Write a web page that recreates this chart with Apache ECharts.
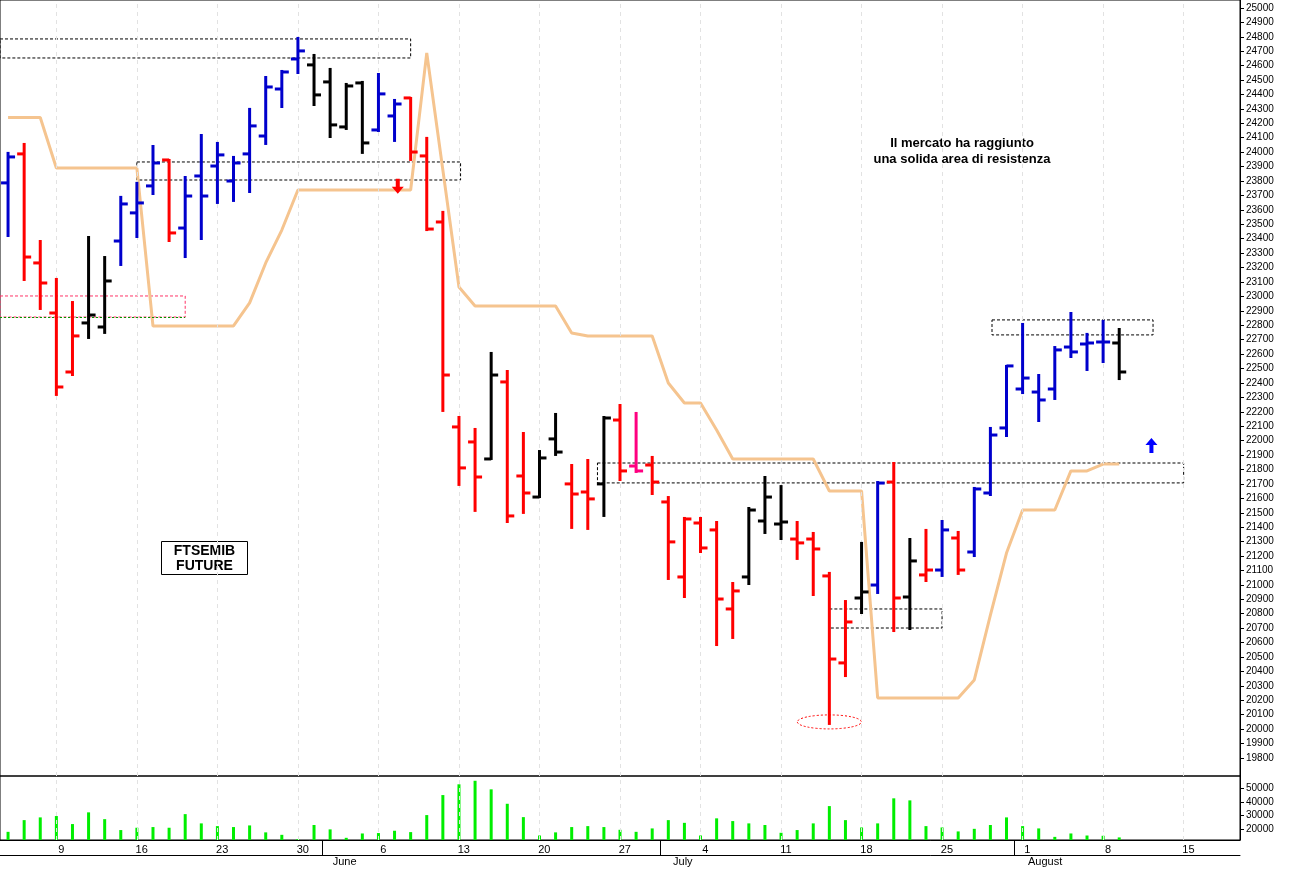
<!DOCTYPE html>
<html><head><meta charset="utf-8">
<script src="https://cdn.jsdelivr.net/npm/echarts@6/dist/echarts.min.js"></script>
<style>html,body{margin:0;padding:0;background:#fff}#c{width:1289px;height:870px}</style>
</head><body><div id="c"></div>
<script>
// trading days May 4 .. Aug 9 (index 0..69)
const opens  = [23787,23988,23232,22885,22476,22816,22788,23384,23579,23766,23946,23474,23835,23904,23800,23988,24112,24438,24646,24605,24487,24175,24480,24154,24251,24376,23974,23516,22095,21991,21873,22407,21755,21609,22012,21700,21644,21700,22143,21824,21831,21575,21055,21429,21381,20833,21055,21443,21422,21318,21318,21062,20459,20909,20999,21713,20916,21069,21103,21325,21228,21637,22088,22358,22337,22358,22649,22670,22684,22677];
const highs  = [23995,24057,23384,23121,22961,23412,23273,23690,23787,24043,23946,23828,24119,24064,23967,24300,24521,24563,24792,24674,24577,24473,24487,24542,24362,24376,24099,23586,22164,22081,22608,22483,22053,21928,22185,21831,21866,22164,22247,22192,21887,21609,21464,21464,21436,21013,21533,21748,21685,21436,21360,21083,20888,21291,21713,21845,21318,21381,21443,21367,21672,22088,22518,22809,22455,22649,22885,22740,22830,22774];
const lows   = [23419,23114,22913,22317,22455,22712,22747,23218,23412,23710,23384,23273,23398,23648,23662,23724,24057,24313,24549,24327,24105,24161,23995,24147,24078,23946,23460,22206,21693,21513,21873,21436,21499,21609,21901,21395,21388,21478,21727,21783,21630,21041,20916,21228,20583,20632,21006,21360,21318,21180,20930,20036,20368,20805,20944,20680,20694,21027,21062,21076,21200,21623,22032,22330,22136,22289,22580,22490,22545,22427];
const closes = [23967,23273,23093,22372,22726,22871,23107,23641,23648,23925,23440,23696,23696,23981,23925,24182,24452,24556,24702,24397,24189,24459,24064,24404,24334,24001,23467,22455,21811,21748,22455,21478,21637,21880,21921,21630,21596,22157,21790,21790,21713,21298,21457,21256,20902,20958,21519,21609,21436,21291,21249,20486,20743,20951,21706,20909,21166,21103,21381,21103,21665,22039,22518,22434,22282,22629,22615,22677,22684,22476];
const barColorCodes = "brrrrkkbbbrbbbbbbbbkkkkbbrrrrrkrrkkrrkrprrrrrrkkkrrrrkbrkrbrbbbbbbbbbk";
const stopLine = [24240,24240,24240,23890,23890,23890,23890,23890,23890,22795,22795,22795,22795,22795,22795,22955,23232,23460,23738,23738,23738,23738,23738,23738,23738,23738,24688,23876,23065,22934,22934,22934,22934,22934,22934,22747,22726,22726,22726,22726,22726,22400,22261,22261,22074,21873,21873,21873,21873,21873,21873,21651,21651,21651,20216,20216,20216,20216,20216,20216,20341,20791,21221,21519,21519,21519,21790,21790,21838,21838];
const volumes = [18000,26600,28600,29600,23700,32300,27300,19300,21000,21500,21000,31000,24200,22200,21500,22700,17600,15800,12700,23000,19800,13600,16800,17100,18800,17800,30300,45000,52900,55500,49200,38600,28800,15300,17600,21500,22200,21500,19500,18000,20500,26600,24600,15300,27900,25900,24200,23000,17300,19300,24200,36900,26600,21200,24200,42600,41100,22200,21200,18300,20200,23000,28600,22200,20500,14300,16800,15300,15100,13900];
const weekTickIdx = [3,8,13,18,23,28,33,38,43,48,53,58,63,68,73];
const weekTickLabels = ["9","16","23","30","6","13","20","27","4","11","18","25","1","8","15"];
const monthTickIdx = [20,41,63];
const monthLabels = ["June","July","August"];
const priceLabels = [];
for (let p = 19800; p <= 25000; p += 100) priceLabels.push(p);
const volumeLabels = [20000,30000,40000,50000];
// annotation zones [x0,x1,priceTop,priceBottom]
const blackZones = [[-0.5,25,24785,24653],[8,28.1,23932,23807],[61.1,71.1,22837,22733],[36.6,73,21845,21707],[51,58,20833,20701]];
const pinkZone = [-0.5,11,23003,22857];

const colorMap = {b:'#0000cc', r:'#ff0000', k:'#000000', p:'#ff0080'};
const ohlc = opens.map((o,i)=>[i,o,highs[i],lows[i],closes[i],barColorCodes[i]]);
const monthPos = monthTickIdx.map(v=>v-0.5);
const weekLabelPos = weekTickIdx.map(v=>v+0.3);
const monthLabelPos = monthPos.map((v,i)=>v+[1.4,1.4,1.9][i]);

const chart = echarts.init(document.getElementById('c'));
const ohlcRender = (params, api) => {
  const i = api.value(0);
  const pO = api.coord([i, api.value(1)]), pH = api.coord([i, api.value(2)]);
  const pL = api.coord([i, api.value(3)]), pC = api.coord([i, api.value(4)]);
  const col = colorMap[ohlc[params.dataIndex][5]];
  const st = {stroke: col, lineWidth: 3};
  return {type:'group', children:[
    {type:'line', shape:{x1:pH[0],y1:pH[1]-1,x2:pL[0],y2:pL[1]+1}, style:st},
    {type:'line', shape:{x1:pO[0]-7,y1:pO[1],x2:pO[0],y2:pO[1]}, style:st},
    {type:'line', shape:{x1:pC[0],y1:pC[1],x2:pC[0]+7,y2:pC[1]}, style:st}
  ]};
};
const zoneArea = z => [{xAxis:z[0], yAxis:z[2]},{xAxis:z[1], yAxis:z[3]}];
const weekLines = {silent:true,symbol:'none',label:{show:false},lineStyle:{color:'#e2e2e2',type:[4,4],width:1},
  data:weekTickIdx.map(v=>({xAxis:v}))};
const plain = v => String(v);

const option = {
  animation:false,
  backgroundColor:'#fff',
  grid:[
    {left:0,right:49,top:0,bottom:94,show:true,borderColor:'#000',borderWidth:1},
    {left:0,right:49,top:776,height:64,show:true,borderColor:'#000',borderWidth:1}
  ],
  xAxis:[
    {type:'value',gridIndex:0,min:-0.5,max:76.5,axisLine:{show:false},axisTick:{show:false},axisLabel:{show:false},splitLine:{show:false}},
    {type:'value',gridIndex:1,min:-0.5,max:76.5,axisLine:{show:true,onZero:false,lineStyle:{color:'#000'}},
     axisTick:{show:false},
     axisLabel:{customValues:weekLabelPos,formatter:v=>weekTickLabels[weekLabelPos.indexOf(v)]||'',margin:4,fontFamily:'Arial',fontSize:11,color:'#000'},
     splitLine:{show:false}},
    {type:'value',gridIndex:1,min:-0.5,max:76.5,position:'bottom',offset:15,axisLine:{show:true,onZero:false,lineStyle:{color:'#000'}},
     axisTick:{show:true,customValues:monthPos,length:-15,lineStyle:{color:'#000'}},
     axisLabel:{customValues:monthLabelPos,formatter:v=>monthLabels[monthLabelPos.indexOf(v)]||'',margin:1,fontFamily:'Arial',fontSize:11,color:'#000'},
     splitLine:{show:false}}
  ],
  yAxis:[
    {type:'value',gridIndex:0,position:'right',min:19675,max:25055,
     axisLine:{show:true,onZero:false,lineStyle:{color:'#000'}},
     axisTick:{show:true,customValues:priceLabels,length:4,lineStyle:{color:'#000'}},
     axisLabel:{customValues:priceLabels,formatter:plain,fontFamily:'Arial',fontSize:10,color:'#000',margin:6},
     splitLine:{show:false}},
    {type:'value',gridIndex:1,position:'right',min:12000,max:59000,
     axisLine:{show:true,onZero:false,lineStyle:{color:'#000'}},
     axisTick:{show:true,customValues:volumeLabels,length:4},
     axisLabel:{customValues:volumeLabels,formatter:plain,fontFamily:'Arial',fontSize:10,color:'#000',margin:6},
     splitLine:{show:false}}
  ],
  graphic:[
    {type:'text',x:962,y:135,style:{text:'Il mercato ha raggiunto\nuna solida area di resistenza',textAlign:'center',font:'bold 13px "Liberation Sans Narrow", "Liberation Sans", Arial',fill:'#000',lineHeight:16}},
    {type:'group',left:161,top:541,children:[
      {type:'rect',shape:{x:0,y:0,width:86,height:33},style:{fill:'#fff',stroke:'#000',lineWidth:1}},
      {type:'text',x:43,y:2,style:{text:'FTSEMIB\nFUTURE',textAlign:'center',font:'bold 14px "Liberation Sans Narrow", Arial',fill:'#000',lineHeight:15}}
    ]}
  ],
  series:[
    {type:'line',xAxisIndex:0,yAxisIndex:0,data:stopLine.map((v,i)=>[i,v]),showSymbol:false,
     lineStyle:{color:'#f5c48f',width:3},z:2,markLine:weekLines,
     markArea:{silent:true,itemStyle:{color:'rgba(0,0,0,0)',borderColor:'#000',borderWidth:1,borderType:[3,2]},
       data:blackZones.map(zoneArea)}},
    {type:'custom',xAxisIndex:0,yAxisIndex:0,data:ohlc,renderItem:ohlcRender,z:5,
     markArea:{silent:true,itemStyle:{color:'rgba(0,0,0,0)',borderColor:'#ff3366',borderWidth:1,borderType:[3,2]},
       data:[zoneArea(pinkZone)]},
     markLine:{silent:true,symbol:'none',label:{show:false},lineStyle:{color:'#009900',type:[2,2],width:1},
       data:[[{coord:[pinkZone[0],pinkZone[3]]},{coord:[pinkZone[1],pinkZone[3]]}]]}},
    {type:'custom',xAxisIndex:0,yAxisIndex:0,z:6,
     data:[[51,20050],[24.2,23760],[71,21970]],
     renderItem:(params,api)=>{
       const p = api.coord([api.value(0),api.value(1)]);
       const kind = ['ellipse','down','up'][params.dataIndex];
       if(kind==='ellipse') return {type:'path',shape:{pathData:'M0,7 A32,7 0 1,0 64,7 A32,7 0 1,0 0,7 Z',x:p[0]-32,y:p[1]-7,width:64,height:14},style:{fill:'none',stroke:'#ff0000',lineWidth:1,lineDash:[2,2]}};
       const c = kind==='down'?'#ff0000':'#0000ff';
       const s = kind==='down'?1:-1;
       return {type:'polygon',shape:{points:[[p[0]-2,p[1]-8*s],[p[0]+2,p[1]-8*s],[p[0]+2,p[1]],[p[0]+6,p[1]],[p[0],p[1]+7*s],[p[0]-6,p[1]],[p[0]-2,p[1]]]},style:{fill:c}};
     }},
    {type:'bar',xAxisIndex:1,yAxisIndex:1,data:volumes.map((v,i)=>[i,v]),barWidth:3,itemStyle:{color:'#00ee00'},
     markLine:weekLines}
  ]
};
chart.setOption(option);
</script></body></html>
